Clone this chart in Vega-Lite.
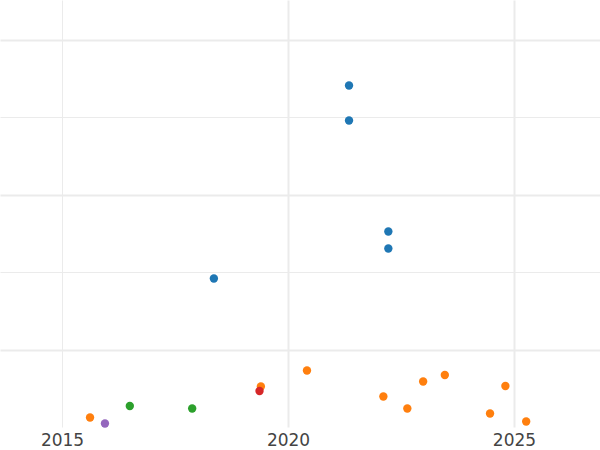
{
  "$schema": "https://vega.github.io/schema/vega-lite/v6.json",
  "width": 600,
  "height": 427,
  "padding": {"left": 0, "top": 0, "right": 0, "bottom": 23},
  "autosize": {"type": "none"},
  "background": "white",
  "config": {"view": {"stroke": null}},
  "data": {"values": [
    {"year": 2021.35, "value": 44.06, "group": "A"},
    {"year": 2021.35, "value": 39.55, "group": "A"},
    {"year": 2022.22, "value": 25.22, "group": "A"},
    {"year": 2022.22, "value": 23.03, "group": "A"},
    {"year": 2018.36, "value": 19.16, "group": "A"},
    {"year": 2015.62, "value": 1.22, "group": "B"},
    {"year": 2019.40, "value": 5.22, "group": "B"},
    {"year": 2020.42, "value": 7.29, "group": "B"},
    {"year": 2022.11, "value": 3.93, "group": "B"},
    {"year": 2022.64, "value": 2.39, "group": "B"},
    {"year": 2022.99, "value": 5.87, "group": "B"},
    {"year": 2023.47, "value": 6.71, "group": "B"},
    {"year": 2024.47, "value": 1.74, "group": "B"},
    {"year": 2024.81, "value": 5.29, "group": "B"},
    {"year": 2025.27, "value": 0.71, "group": "B"},
    {"year": 2016.50, "value": 2.71, "group": "C"},
    {"year": 2017.88, "value": 2.39, "group": "C"},
    {"year": 2019.37, "value": 4.64, "group": "D"},
    {"year": 2015.95, "value": 0.45, "group": "E"}
  ]},
  "mark": {"type": "point", "filled": true, "opacity": 1, "size": 70, "shape": "circle", "clip": false},
  "encoding": {
    "x": {
      "field": "year", "type": "quantitative",
      "scale": {"domain": [2013.628, 2026.903], "nice": false, "zero": false},
      "axis": {
        "title": null, "values": [2015, 2020, 2025], "format": "d",
        "domain": false, "ticks": false,
        "labelFont": "DejaVu Sans", "labelFontSize": 17, "labelColor": "#444444",
        "labelPadding": 5,
        "gridColor": "#ebebeb",
        "gridWidth": {"condition": {"test": "datum.value >= 2020", "value": 2}, "value": 1}
      }
    },
    "y": {
      "field": "value", "type": "quantitative",
      "scale": {"domain": [0, 55.1], "nice": false, "zero": false},
      "axis": {
        "title": null, "values": [10, 20, 30, 40, 50],
        "domain": false, "ticks": false, "labels": false,
        "gridColor": "#ebebeb",
        "gridWidth": {"condition": {"test": "datum.value % 20 == 10", "value": 2}, "value": 1}
      }
    },
    "color": {
      "field": "group", "type": "nominal", "legend": null,
      "scale": {"domain": ["A", "B", "C", "D", "E"], "range": ["#1f77b4", "#ff7f0e", "#2ca02c", "#d62728", "#9467bd"]}
    }
  }
}
